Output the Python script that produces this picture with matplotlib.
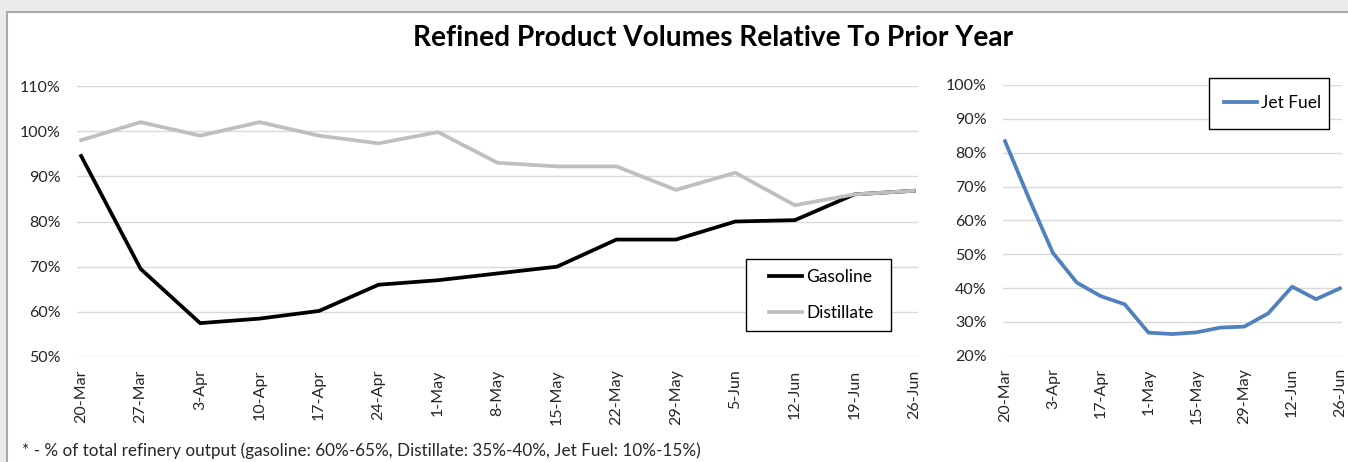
import matplotlib
matplotlib.use("Agg")
import matplotlib.pyplot as plt
from matplotlib.patches import Rectangle
from matplotlib.ticker import PercentFormatter, FixedLocator

plt.rcParams['font.family'] = ['Lato', 'DejaVu Sans']

dates = ["20-Mar", "27-Mar", "3-Apr", "10-Apr", "17-Apr", "24-Apr", "1-May", "8-May",
         "15-May", "22-May", "29-May", "5-Jun", "12-Jun", "19-Jun", "26-Jun"]
gasoline = [94.5, 69.5, 57.5, 58.5, 60.2, 66.0, 67.0, 68.5, 70.0, 76.0, 76.0, 80.0, 80.3, 86.0, 86.8]
distillate = [98.0, 102.0, 99.0, 102.0, 99.0, 97.3, 99.8, 93.0, 92.2, 92.2, 87.0, 90.8, 83.6, 86.0, 86.8]
jet_fuel = [83.4, 66.5, 50.4, 41.6, 37.6, 35.2, 26.8, 26.4, 26.9, 28.3, 28.6, 32.5, 40.4, 36.7, 39.9]

title = "Refined Product Volumes Relative To Prior Year"
footnote = "* - % of total refinery output (gasoline: 60%-65%, Distillate: 35%-40%, Jet Fuel: 10%-15%)"

W, H = 1348, 462
fig = plt.figure(figsize=(W / 100, H / 100), dpi=100)
fig.patch.set_facecolor('#ebebeb')

def px_rect(x0, x1, ytop, ybot):
    return [x0 / W, (H - ybot) / H, (x1 - x0) / W, (ybot - ytop) / H]

def fx(px):
    return px / W

def fy(py):
    return 1 - py / H

fig.patches.append(Rectangle((6.5 / W, -0.1), 1.2, (H - 11.5) / H + 0.1, transform=fig.transFigure,
                             facecolor='white', edgecolor='#a9a9a9', linewidth=1.5, zorder=-5))

tick_color = '#262626'
grid_color = '#d9d9d9'
fs = 11.5
lfs = 12.5
lw = 2.7

x = list(range(len(dates)))

# Left chart
ax1 = fig.add_axes(px_rect(77, 918, 86, 357))
ax1.set_facecolor('none')
ax1.plot(x, gasoline, color='black', lw=lw, label='Gasoline', solid_joinstyle='round', zorder=2)
ax1.plot(x, distillate, color='#bfbfbf', lw=lw, label='Distillate', solid_joinstyle='round', zorder=3)
ax1.set_ylim(50, 110)
ax1.set_xlim(-0.07, 14.07)
ax1.yaxis.set_major_locator(FixedLocator([50, 60, 70, 80, 90, 100, 110]))
ax1.yaxis.set_major_formatter(PercentFormatter(100, decimals=0))
ax1.set_xticks(x)
ax1.set_xticklabels(dates, rotation=90)
ax1.grid(axis='y', color=grid_color, lw=1)
ax1.set_axisbelow(True)
for s in ax1.spines.values():
    s.set_visible(False)
ax1.tick_params(axis='both', length=0, labelsize=fs, labelcolor=tick_color)
ax1.tick_params(axis='y', pad=12)
ax1.tick_params(axis='x', pad=9)

box1 = Rectangle((fx(746), fy(331)), fx(891) - fx(746), fy(259) - fy(331), transform=fig.transFigure,
                 facecolor='white', edgecolor='black', linewidth=1.0, zorder=4, clip_on=False)
ax1.add_artist(box1)
leg1 = ax1.legend(loc='center left', bbox_to_anchor=(fx(769), fy(295)), bbox_transform=fig.transFigure,
                  frameon=False, fontsize=lfs, handlelength=1.9, handletextpad=0.23,
                  labelspacing=1.15, borderpad=0, borderaxespad=0)
leg1.set_zorder(5)

# Right chart
ax2 = fig.add_axes(px_rect(1003, 1342, 85, 355.7))
ax2.set_facecolor('none')
ax2.plot(x, jet_fuel, color='#4f81bd', lw=lw, label='Jet Fuel', solid_joinstyle='round')
ax2.set_ylim(20, 100)
ax2.set_xlim(-0.084, 14.084)
ax2.yaxis.set_major_locator(FixedLocator([20, 30, 40, 50, 60, 70, 80, 90, 100]))
ax2.yaxis.set_major_formatter(PercentFormatter(100, decimals=0))
ax2.set_xticks(x[::2])
ax2.set_xticklabels(dates[::2], rotation=90)
ax2.grid(axis='y', color=grid_color, lw=1)
ax2.set_axisbelow(True)
for s in ax2.spines.values():
    s.set_visible(False)
ax2.tick_params(axis='both', length=0, labelsize=fs, labelcolor=tick_color)
ax2.tick_params(axis='y', pad=12)
ax2.tick_params(axis='x', pad=9)

box2 = Rectangle((fx(1209), fy(129)), fx(1329) - fx(1209), fy(78) - fy(129), transform=fig.transFigure,
                 facecolor='white', edgecolor='black', linewidth=1.0, zorder=4, clip_on=False)
ax2.add_artist(box2)
leg2 = ax2.legend(loc='center left', bbox_to_anchor=(fx(1224), fy(103.5)), bbox_transform=fig.transFigure,
                  frameon=False, fontsize=lfs, handlelength=1.9, handletextpad=0.23,
                  borderpad=0, borderaxespad=0)
leg2.set_zorder(5)

fig.text(713 / W, 1 - 38 / H, title, ha='center', va='center', fontsize=20.2,
         fontweight='bold', color='black')
fig.text(22 / W, 1 - 451 / H, footnote, ha='left', va='center', fontsize=12.3, color=tick_color)

fig.savefig('out.png', dpi=100, facecolor=fig.get_facecolor())
